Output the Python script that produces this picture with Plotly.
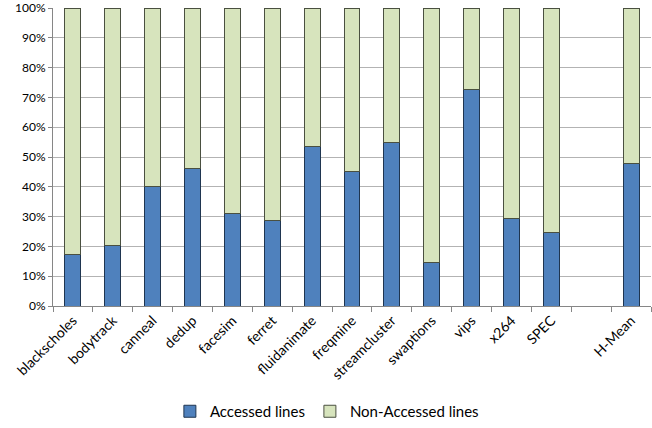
import plotly.graph_objects as go

categories = ["blackscholes", "bodytrack", "canneal", "dedup", "facesim", "ferret",
              "fluidanimate", "freqmine", "streamcluster", "swaptions", "vips", "x264",
              "SPEC", " ", "H-Mean"]
accessed = [17.4, 20.2, 40.0, 46.0, 31.0, 28.8, 53.4, 45.0, 54.7, 14.6, 72.8, 29.4, 24.6, None, 47.7]
non_accessed = [None if a is None else round(100 - a, 1) for a in accessed]
y_ticks = [0, 10, 20, 30, 40, 50, 60, 70, 80, 90, 100]
y_tick_labels = [f"{v}%" for v in y_ticks]

font = "Lato, 'Liberation Sans', sans-serif"

fig = go.Figure()
fig.add_trace(go.Bar(x=categories, y=accessed, name="Accessed lines",
                     marker=dict(color="#4F81BD", line=dict(color="#1F3550", width=1)),
                     width=0.4))
fig.add_trace(go.Bar(x=categories, y=non_accessed, name="Non-Accessed lines",
                     marker=dict(color="#D7E4BD", line=dict(color="#4A5040", width=1)),
                     width=0.4))

fig.update_layout(
    barmode="stack",
    width=652, height=428,
    margin=dict(l=53, r=1, t=8, b=121),
    plot_bgcolor="white", paper_bgcolor="white",
    font=dict(family=font, size=13, color="#000000"),
    showlegend=True,
    legend=dict(orientation="h", x=0.458, xanchor="center", y=-0.351, yanchor="middle",
                font=dict(size=15), traceorder="normal", itemwidth=30),
    xaxis=dict(type="category", categoryorder="array", categoryarray=categories,
               tickangle=-45, tickson="boundaries", ticks="outside", ticklen=5,
               tickcolor="#868686", showline=True, linecolor="#868686", linewidth=1,
               showgrid=False, tickfont=dict(size=14)),
    yaxis=dict(range=[0, 100], tickvals=y_ticks, ticktext=y_tick_labels,
               showgrid=True, gridcolor="#B3B3B3", gridwidth=1,
               showline=True, linecolor="#868686", linewidth=1,
               ticks="outside", ticklen=4, tickcolor="#868686",
               tickfont=dict(size=12), zeroline=False),
)

fig.write_html("out.html")
